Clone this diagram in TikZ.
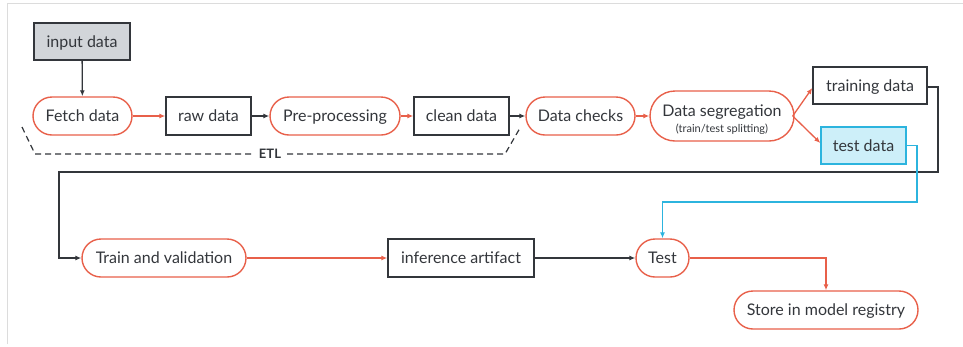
\documentclass[tikz,border=0pt]{standalone}
\usepackage{fontspec}
\setmainfont{Lato}
\usetikzlibrary{arrows.meta}

\definecolor{ink}{HTML}{33363B}
\definecolor{accent}{HTML}{E8604A}
\definecolor{sky}{HTML}{2CB4DE}
\definecolor{skyfill}{HTML}{CDEFF9}
\definecolor{greyfill}{HTML}{D2D5D9}
\definecolor{frame}{HTML}{DCDCDC}

\tikzset{
  base/.style={draw, line width=1.4pt, inner sep=0pt, text=ink,
               font=\fontsize{16}{18}\selectfont, minimum height=38pt,
               text height=12.5pt, text depth=1.5pt},
  pill/.style={base, draw=accent, rounded corners=19pt},
  databox/.style={base, draw=ink},
  tip/.style={-{Latex[length=6pt,width=5pt]}},
  flow/.style={tip, draw=accent, line width=1.3pt},
  plain/.style={tip, draw=ink, line width=1.3pt},
  feed/.style={tip, draw=sky, line width=1.3pt},
}

\begin{document}
\begin{tikzpicture}[x=1pt,y=-1pt]
\useasboundingbox (0,0) rectangle (963,346);

% light frame along the top and left
\draw[frame, line width=1pt] (7,344) -- (7,3) -- (963,3);

% first row: ETL and data preparation
\node[databox, fill=greyfill, minimum width=96pt, minimum height=37pt] (input) at (82,41.5) {input data};
\node[pill, minimum width=99pt]  (fetch)  at (82.5,116) {Fetch data};
\node[databox, minimum width=85pt]  (raw)    at (208.5,116) {raw data};
\node[pill, minimum width=130pt] (pre)    at (335,116) {Pre-processing};
\node[databox, minimum width=95pt]  (clean)  at (461.5,116) {clean data};
\node[pill, minimum width=109pt] (checks) at (580.5,116) {Data checks};
\node[pill, minimum width=144pt, minimum height=50pt, rounded corners=25pt,
      text height=, text depth=, align=center] (seg) at (722,116)
  {\rule{0pt}{18pt}Data segregation\\[-2pt]{\fontsize{11}{13}\selectfont (train/test splitting)}};
\node[databox, minimum width=114pt, minimum height=37pt] (train) at (870,85.5) {training data};
\node[databox, draw=sky, fill=skyfill, minimum width=85pt, minimum height=37pt] (test) at (863.5,145.5) {test data};

% second row: training, inference and registry
\node[pill, minimum width=164pt] (fit)   at (164,258) {Train and validation};
\node[databox, minimum width=146pt] (infer) at (461,258) {inference artifact};
\node[pill, minimum width=53pt]  (eval)  at (662.5,258) {Test};
\node[pill, minimum width=184pt] (store) at (826,310) {Store in model registry};

% connectors of the first row
\draw[plain] (input) -- (fetch);
\draw[flow]  (fetch) -- (raw);
\draw[plain] (raw) -- (pre);
\draw[flow]  (pre) -- (clean);
\draw[plain] (clean) -- (checks);
\draw[flow]  (checks) -- (seg);
\draw[flow]  (seg.east) ++(-2,0) coordinate (segout) -- (train.west |- 0,88);
\draw[flow]  (segout) -- (test.west |- 0,143);

% training data loops back to the second row
\draw[plain] (train.east |- 0,87) -| (938,172) -| (59,258) -- (fit.west);
% test data feeds the test step
\draw[feed]  (test.east) -| (917,202) -| (eval.north);

% connectors of the second row
\draw[flow]  (fit) -- (infer);
\draw[plain] (infer) -- (eval);
\draw[flow]  (eval.east) -| (store.north);

% dashed ETL bracket
\draw[ink, line width=1.2pt, dash pattern=on 6pt off 4pt]
  (22,127) -- (35,154) -- (253,154);
\draw[ink, line width=1.2pt, dash pattern=on 6pt off 4pt]
  (287,154) -- (505,154) -- (520,128);
\node[text=ink, font=\fontsize{13}{15}\selectfont\bfseries] (etl) at (270,154) {ETL};
\end{tikzpicture}
\end{document}
